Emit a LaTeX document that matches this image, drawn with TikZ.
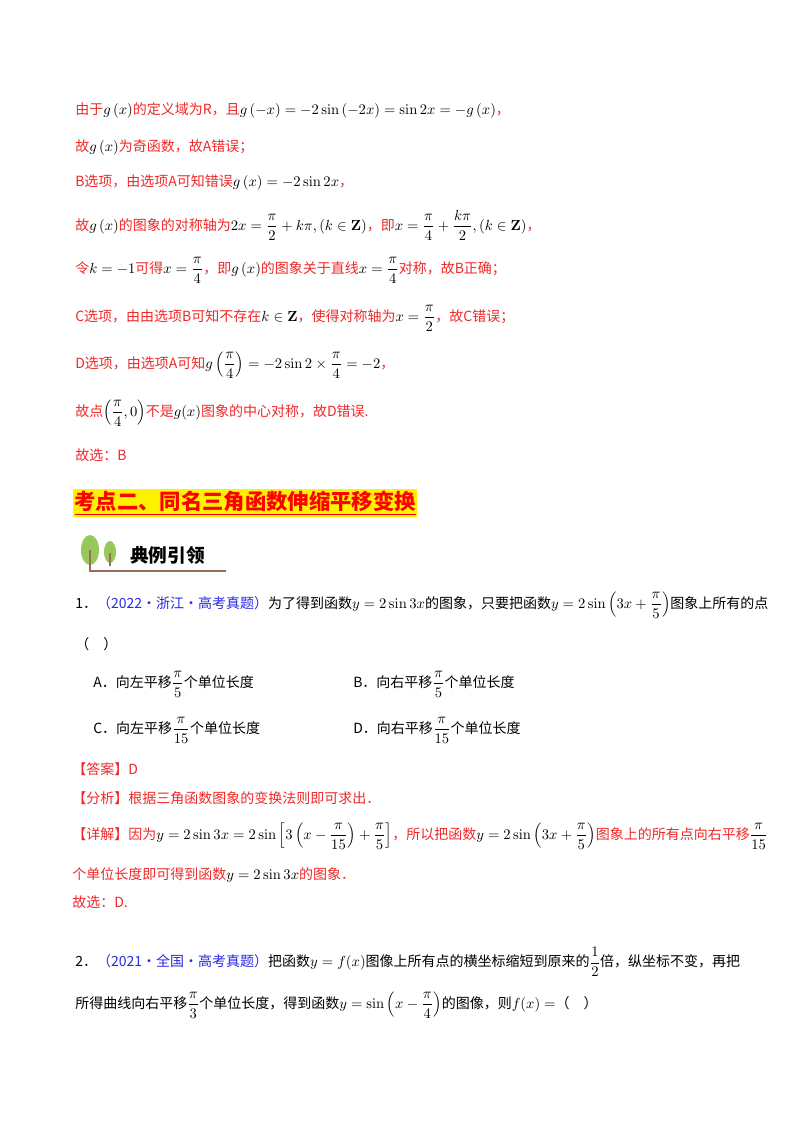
\documentclass[tikz,border=0pt]{standalone}
\usepackage{amsmath,amssymb}
\usepackage[no-math]{fontspec}
\setmainfont{Noto Sans CJK SC}
\definecolor{rd}{RGB}{240,40,40}
\definecolor{bl}{RGB}{40,40,230}
\definecolor{lf}{RGB}{150,200,90}
\definecolor{tr}{RGB}{150,110,90}
\newcommand{\mb}[1]{\textcolor{black}{$#1$}}
\begin{document}
\begin{tikzpicture}[x=0.75pt,y=-0.75pt,
  ln/.style={anchor=west,inner sep=0pt,font=\fontsize{10.5}{12}\selectfont},
  r/.style={ln,text=rd}]
\useasboundingbox (0,0) rectangle (800,1132);
\node[r] (l1) at (75,110) {由于\mb{g\left(x\right)}的定义域为R，且\mb{g\left(-x\right)=-2\sin\left(-2x\right)=\sin 2x=-g\left(x\right)}，};
\node[r] (l2) at (75,147) {故\mb{g\left(x\right)}为奇函数，故A错误；};
\node[r] (l3) at (75,182) {B选项，由选项A可知错误\mb{g\left(x\right)=-2\sin 2x}，};
\node[r] (l4) at (75,225) {故\mb{g\left(x\right)}的图象的对称轴为\mb{2x=\dfrac{\pi}{2}+k\pi,\left(k\in\mathbf{Z}\right)}，即\mb{x=\dfrac{\pi}{4}+\dfrac{k\pi}{2},\left(k\in\mathbf{Z}\right)}，};
\node[r] (l5) at (75,270) {令\mb{k=-1}可得\mb{x=\dfrac{\pi}{4}}，即\mb{g\left(x\right)}的图象关于直线\mb{x=\dfrac{\pi}{4}}对称，故B正确；};
\node[r] (l6) at (75,318) {C选项，由由选项B可知不存在\mb{k\in\mathbf{Z}}，使得对称轴为\mb{x=\dfrac{\pi}{2}}，故C错误；};
\node[r] (l7) at (75,365) {D选项，由选项A可知\mb{g\left(\dfrac{\pi}{4}\right)=-2\sin 2\times\dfrac{\pi}{4}=-2}，};
\node[r] (l8) at (75,413) {故点\mb{\left(\dfrac{\pi}{4},0\right)}不是\mb{g(x)}图象的中心对称，故D错误.};
\node[r] (l9) at (75,455) {故选：B};
\node[anchor=west,inner sep=1pt,fill=yellow,text=red,font=\fontsize{16}{18}\selectfont\bfseries] (h) at (73,503) {\underline{考点二、同名三角函数伸缩平移变换}};
% tree icon
\draw[tr,line width=1.2pt] (90,545) -- (90,571) -- (226,571);
\fill[lf] (90,550) ellipse (9 and 15);
\fill[lf] (110,552) ellipse (6 and 11);
\draw[tr,line width=1pt] (90,550) -- (90,571);
\draw[tr,line width=0.8pt] (110,553) -- (110,566);
\node[ln,font=\fontsize{14}{15}\selectfont\bfseries] (dl) at (130,555) {典例引领};
\node[ln] (q1) at (75,605) {1．\textcolor{bl}{（2022·浙江·高考真题）}为了得到函数$y=2\sin 3x$的图象，只要把函数$y=2\sin\left(3x+\dfrac{\pi}{5}\right)$图象上所有的点};
\node[ln] (q1b) at (75,644) {（\quad）};
\node[ln] (oa) at (93,684) {A．向左平移$\dfrac{\pi}{5}$个单位长度};
\node[ln] (ob) at (353,684) {B．向右平移$\dfrac{\pi}{5}$个单位长度};
\node[ln] (oc) at (93,730) {C．向左平移$\dfrac{\pi}{15}$个单位长度};
\node[ln] (od) at (353,730) {D．向右平移$\dfrac{\pi}{15}$个单位长度};
\node[r] (a1) at (72,769) {【答案】D};
\node[r] (a2) at (72,798) {【分析】根据三角函数图象的变换法则即可求出．};
\node[r] (a3) at (72,836) {【详解】因为\mb{y=2\sin 3x=2\sin\left[3\left(x-\dfrac{\pi}{15}\right)+\dfrac{\pi}{5}\right]}，所以把函数\mb{y=2\sin\left(3x+\dfrac{\pi}{5}\right)}图象上的所有点向右平移\mb{\dfrac{\pi}{15}}};
\node[r] (a4) at (72,875) {个单位长度即可得到函数\mb{y=2\sin 3x}的图象．};
\node[r] (a5) at (72,902) {故选：D.};
\node[ln] (q2) at (75,962) {2．\textcolor{bl}{（2021·全国·高考真题）}把函数$y=f(x)$图像上所有点的横坐标缩短到原来的$\dfrac{1}{2}$倍，纵坐标不变，再把};
\node[ln] (q2b) at (75,1005) {所得曲线向右平移$\dfrac{\pi}{3}$个单位长度，得到函数$y=\sin\left(x-\dfrac{\pi}{4}\right)$的图像，则$f(x)=$（\quad）};
\end{tikzpicture}
\end{document}
